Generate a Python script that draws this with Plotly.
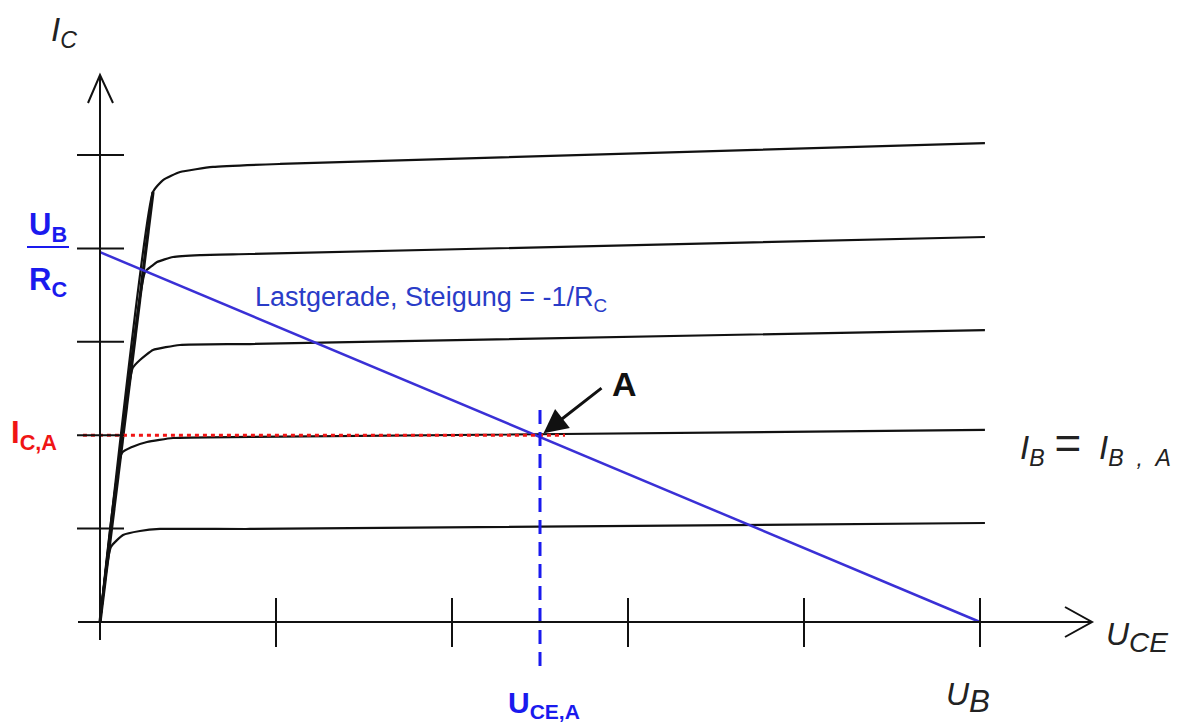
import plotly.graph_objects as go

# Output characteristics I_C(U_CE) for five base currents (axis units = tick steps)
curve_uce = [
    [0, 0.062, 0.131, 0.227, 0.341, 0.852, 5.028],
    [0, 0.124, 0.182, 0.267, 0.415, 0.852, 5.028],
    [0, 0.1855, 0.227, 0.301, 0.4545, 0.852, 5.028],
    [0, 0.256, 0.295, 0.324, 0.415, 0.568, 0.852, 5.028],
    [0, 0.301, 0.358, 0.455, 0.642, 1.023, 5.028],
]
curve_ic = [
    [0, 0.803, 0.931, 0.974, 0.996, 0.996, 1.060],
    [0, 1.809, 1.874, 1.927, 1.970, 1.981, 2.056],
    [0, 2.719, 2.805, 2.912, 2.966, 2.976, 3.126],
    [0, 3.747, 3.812, 3.854, 3.908, 3.929, 3.940, 4.122],
    [0, 4.604, 4.732, 4.818, 4.872, 4.904, 5.128],
]

# Saturation edge shared by all curves (origin up to the top knee)
sat_uce = [0, 0.301]
sat_ic = [0, 4.604]

# Load line from U_B/R_C on the I_C axis down to U_B on the U_CE axis
load_uce = [0, 5]
load_ic = [3.96, 0]

# Operating point A
uce_a = 2.5
ic_a = 2.0

# Tick positions on both axes
x_ticks = [1, 2, 3, 4, 5]
y_ticks = [1, 2, 3, 4, 5]

# Pixel geometry of the drawing area
W, H = 1185, 727
X0, Y0 = 100, 622          # origin in pixels
SX, SY = 176.0, 93.4       # pixels per axis unit

xr = [-X0 / SX, (W - X0) / SX]
yr = [-(H - Y0) / SY, Y0 / SY]

BLACK = "#111111"
BLUE_LINE = "#3a30d6"
BLUE_TXT = "#1a1aee"
RED = "#f01515"

fig = go.Figure()

for xs, ys in zip(curve_uce, curve_ic):
    fig.add_trace(go.Scatter(x=xs, y=ys, mode="lines",
                             line=dict(color=BLACK, width=2.2, shape="spline", smoothing=0.45),
                             hoverinfo="skip", showlegend=False))

fig.add_trace(go.Scatter(x=sat_uce, y=sat_ic, mode="lines",
                         line=dict(color=BLACK, width=3.2),
                         hoverinfo="skip", showlegend=False))

fig.add_trace(go.Scatter(x=load_uce, y=load_ic, mode="lines",
                         line=dict(color=BLUE_LINE, width=2.5),
                         hoverinfo="skip", showlegend=False))

# Horizontal red dotted line at I_C,A
fig.add_trace(go.Scatter(x=[-0.097, 2.642], y=[ic_a, ic_a], mode="lines",
                         line=dict(color=RED, width=3, dash="4px,4px"),
                         hoverinfo="skip", showlegend=False))

# Vertical blue dashed line at U_CE,A
fig.add_trace(go.Scatter(x=[uce_a, uce_a], y=[2.27, -0.535], mode="lines",
                         line=dict(color=BLUE_TXT, width=3, dash="14px,8px"),
                         hoverinfo="skip", showlegend=False))

shapes = []
ax_line = dict(color=BLACK, width=2)

# Axes
shapes.append(dict(type="line", x0=0, x1=0, y0=-0.193, y1=(Y0 - 75) / SY, line=ax_line))
shapes.append(dict(type="line", x0=-0.125, x1=(1092 - X0) / SX, y0=0, y1=0, line=ax_line))
# Open arrow heads
tip_y = (Y0 - 75) / SY
shapes.append(dict(type="path",
                   path=f"M {-12/SX},{tip_y - 28/SY} L 0,{tip_y} L {13/SX},{tip_y - 28/SY}",
                   line=ax_line))
tip_x = (1092 - X0) / SX
shapes.append(dict(type="path",
                   path=f"M {tip_x - 27/SX},{15/SY} L {tip_x},0 L {tip_x - 27/SX},{-15/SY}",
                   line=ax_line))
# Tick marks crossing the axes
for t in x_ticks:
    shapes.append(dict(type="line", x0=t, x1=t, y0=-25 / SY, y1=24 / SY, line=ax_line))
for t in y_ticks:
    shapes.append(dict(type="line", x0=-23 / SX, x1=24 / SX, y0=t, y1=t, line=ax_line))


def px(x, y):
    """Pixel position on the page -> paper coordinates."""
    return x / W, 1 - y / H


# Fraction bar of U_B / R_C
fx0, fy = px(27, 247)
fx1, _ = px(69, 247)
shapes.append(dict(type="line", xref="paper", yref="paper", x0=fx0, x1=fx1, y0=fy, y1=fy,
                   line=dict(color=BLUE_TXT, width=2)))

annotations = []


def label(text, x, y, size, color, xanchor="left", family="Liberation Sans, Arial, sans-serif"):
    px_, py_ = px(x, y)
    annotations.append(dict(text=text, xref="paper", yref="paper", x=px_, y=py_,
                            xanchor=xanchor, yanchor="middle", showarrow=False,
                            font=dict(size=size, color=color, family=family)))


def big_sub(s, pct):
    return f'<sub><span style="font-size:{pct}%">{s}</span></sub>'


label("<i>I<sub>C</sub></i>", 49, 32, 33, "#222222")
label("<b>U<sub>B</sub></b>", 48, 227, 31, BLUE_TXT, xanchor="center")
label("<b>R<sub>C</sub></b>", 48, 282, 31, BLUE_TXT, xanchor="center")
label("<b>I<sub>C,A</sub></b>", 9, 435, 31, RED)
label("Lastgerade, Steigung = -1/R<sub>C</sub>", 253, 299, 27, "#2a3cc8")
label('<i>I<sub>B</sub>&nbsp;<span style="font-size:46px">=</span>&nbsp;&nbsp;I'
      '<sub>B&nbsp;&nbsp;,&nbsp;&nbsp;A</sub></i>', 1018, 444, 33, "#222222")
label("<i>U" + big_sub("CE", 125) + "</i>", 1104, 637, 32, "#222222")
label("<i>U" + big_sub("B", 140) + "</i>", 944, 697, 32, "#222222")
label("<b>U<sub>CE,A</sub></b>", 506, 704, 30, BLUE_TXT)
label("<b>A</b>", 610, 384, 34, BLACK)

# Arrow pointing at operating point A
annotations.append(dict(x=uce_a + 0.02, y=ic_a + 0.02, xref="x", yref="y",
                        ax=(603 - X0) / SX, ay=(Y0 - 387) / SY, axref="x", ayref="y",
                        text="", showarrow=True, arrowhead=2, arrowsize=1.6,
                        arrowwidth=3, arrowcolor=BLACK))

fig.update_layout(
    width=W, height=H,
    margin=dict(l=0, r=0, t=0, b=0),
    paper_bgcolor="white", plot_bgcolor="white",
    xaxis=dict(range=xr, visible=False, fixedrange=True),
    yaxis=dict(range=yr, visible=False, fixedrange=True),
    shapes=shapes,
    annotations=annotations,
    showlegend=False,
)

fig.write_html("out.html")
